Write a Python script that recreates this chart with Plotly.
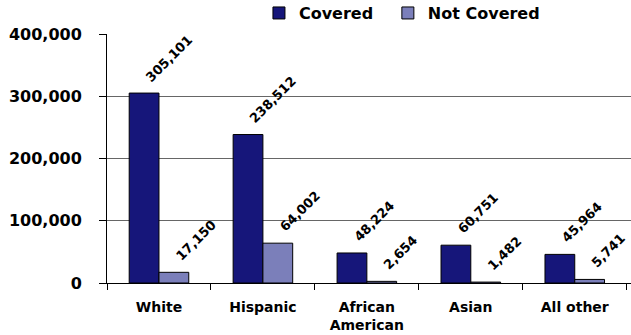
import plotly.graph_objects as go

categories = ["White", "Hispanic", "African<br>American", "Asian", "All other"]
covered = [305101, 238512, 48224, 60751, 45964]
not_covered = [17150, 64002, 2654, 1482, 5741]

font_family = "DejaVu Sans, Verdana, sans-serif"
covered_color = "#16167a"
not_covered_color = "#7b7fba"

fig = go.Figure()
fig.add_trace(go.Bar(
    name="<b>Covered</b>", x=categories, y=covered, legend="legend",
    marker=dict(color=covered_color, line=dict(color="#000000", width=1)),
))
fig.add_trace(go.Bar(
    name="<b>Not Covered</b>", x=categories, y=not_covered, legend="legend2",
    marker=dict(color=not_covered_color, line=dict(color="#000000", width=1)),
))

# Value labels, rotated 45 degrees and anchored just above each bar's centre
bar_half = 15  # pixel offset from category centre to each bar's centre
for series, shift in ((covered, -bar_half), (not_covered, bar_half)):
    for cat, val in zip(categories, series):
        fig.add_annotation(
            x=cat, y=val, xref="x", yref="y",
            text=f"<b>{val:,}</b>", textangle=-45, showarrow=False,
            xanchor="left", yanchor="bottom", xshift=shift - 4, yshift=6,
            font=dict(family=font_family, size=13, color="#000000"),
        )

legend_style = dict(
    orientation="h", y=0.961, xanchor="left", yanchor="middle",
    yref="container", itemwidth=30,
    font=dict(family=font_family, size=16, color="#000000"),
    bgcolor="rgba(0,0,0,0)",
)

fig.update_layout(
    width=631, height=335,
    margin=dict(l=107, r=0, t=34, b=52, autoexpand=False),
    paper_bgcolor="white", plot_bgcolor="white",
    barmode="group", bargap=0.427, bargroupgap=0,
    font=dict(family=font_family, size=14, color="#000000"),
    showlegend=True,
    legend=dict(x=0.290, **legend_style),
    legend2=dict(x=0.536, **legend_style),
)
fig.update_yaxes(
    range=[0, 400000], dtick=100000, tickformat=",",
    showgrid=True, gridcolor="#666666", gridwidth=1,
    showline=True, linecolor="#000000", linewidth=1,
    ticks="outside", ticklen=7, tickcolor="#000000",
    ticklabelstandoff=14, automargin=False,
    tickfont=dict(family=font_family, size=16, color="#000000"),
    tickprefix="<b>", ticksuffix="</b>",
    zeroline=False,
)
fig.update_xaxes(
    showline=True, linecolor="#000000", linewidth=1,
    ticks="outside", ticklen=6, tickcolor="#000000", tickson="boundaries",
    ticklabelstandoff=11, automargin=False,
    tickfont=dict(family=font_family, size=14, color="#000000"),
    tickprefix="<b>", ticksuffix="</b>",
)

fig.write_html("out.html")
